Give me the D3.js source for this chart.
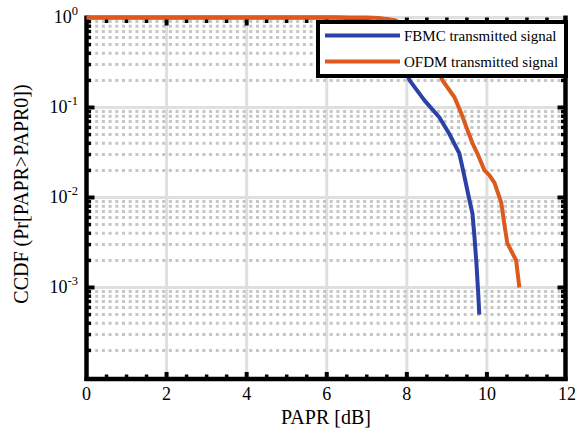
<!DOCTYPE html>
<html>
<head>
<meta charset="utf-8">
<script src="https://cdn.jsdelivr.net/npm/d3@7"></script>
<style>
  html, body { margin: 0; padding: 0; background: #fff; }
  svg { display: block; }
</style>
</head>
<body>
<svg id="chart" width="580" height="438" font-family="'Liberation Serif', 'Times New Roman', Times, serif"></svg>
<script>
// ---- data ----
const xTicks = [0, 2, 4, 6, 8, 10, 12];
const yDecades = [1, 0.1, 0.01, 0.001];
const yExponents = ["0", "-1", "-2", "-3"];
const seriesNames = ["FBMC transmitted signal", "OFDM transmitted signal"];
const fbmcX = [0, 6.2, 6.8, 7.2, 7.5, 7.8, 8.07, 8.44, 8.81, 9.06, 9.31, 9.44, 9.56, 9.64, 9.69, 9.74, 9.78, 9.81];
const fbmcY = [1, 1, 0.98, 0.88, 0.65, 0.38, 0.2, 0.12, 0.078, 0.051, 0.031, 0.017, 0.0095, 0.0066, 0.0036, 0.0018, 0.0009, 0.0005];
const ofdmX = [0, 7.0, 7.3, 7.7, 8.0, 8.3, 8.6, 8.89, 9.19, 9.36, 9.49, 9.64, 9.76, 9.94, 10.06, 10.19, 10.36, 10.43, 10.51, 10.73, 10.81];
const ofdmY = [1, 1, 0.985, 0.93, 0.8, 0.6, 0.38, 0.2, 0.13, 0.086, 0.06, 0.04, 0.031, 0.02, 0.0177, 0.0145, 0.0087, 0.0052, 0.0031, 0.002, 0.001];
const colors = ["#2c41a6", "#dd5a1e"];

const FONT = "'Liberation Serif', 'Times New Roman', Times, serif";
const svg = d3.select("#chart");
const x = d3.scaleLinear().domain([0, 12]).range([86.5, 567]);
const y = d3.scaleLog().domain([1e-4, 1]).range([377.5, 17.5]);
const x0 = x(0), x1 = x(12) - 1.5, yTop = y(1), yBot = y(1e-4) + 1.5;

// major grid
const g = svg.append("g");
xTicks.filter(d => d > 0 && d < 12).forEach(d => {
  g.append("line").attr("x1", x(d)).attr("x2", x(d)).attr("y1", yTop).attr("y2", yBot)
    .attr("stroke", "#dfdfdf").attr("stroke-width", 3);
});
[1, 0.1, 0.01, 0.001].forEach(d => {
  g.append("line").attr("x1", x0).attr("x2", x1).attr("y1", y(d)).attr("y2", y(d))
    .attr("stroke", "#dfdfdf").attr("stroke-width", 3);
});
// minor grid (dotted)
const minorVals = [];
[-4, -3, -2, -1].forEach(e => { for (let k = 2; k <= 9; k++) minorVals.push(k * Math.pow(10, e)); });
minorVals.forEach(v => {
  g.append("line").attr("x1", x0 + 2).attr("x2", x1).attr("y1", y(v)).attr("y2", y(v))
    .attr("stroke", "#c6c6c6").attr("stroke-width", 3).attr("stroke-dasharray", "3,3.7");
});

// frame
const f = svg.append("g").attr("stroke", "#000");
f.append("line").attr("x1", x0).attr("x2", x0).attr("y1", yTop - 2).attr("y2", yBot + 2).attr("stroke-width", 4.5);
f.append("line").attr("x1", x0 - 2).attr("x2", x1 + 2).attr("y1", yBot).attr("y2", yBot).attr("stroke-width", 4.5);
f.append("line").attr("x1", x1).attr("x2", x1).attr("y1", yTop - 2).attr("y2", yBot + 2).attr("stroke-width", 4.5);

// ticks
const xMinor = d3.range(0.5, 12, 0.5);
xMinor.forEach(d => {
  const major = Math.abs(d % 2) < 1e-9;
  const len = major ? 7 : 4.5;
  f.append("line").attr("x1", x(d)).attr("x2", x(d)).attr("y1", yBot).attr("y2", yBot - len).attr("stroke-width", major ? 4 : 3.5);
  f.append("line").attr("x1", x(d)).attr("x2", x(d)).attr("y1", yTop).attr("y2", yTop + len + 1).attr("stroke-width", major ? 4 : 3.5);
});
const yAll = minorVals.map(v => [v, false]).concat([[0.1, true], [0.01, true], [0.001, true]]);
yAll.forEach(([v, major]) => {
  const len = major ? 8 : 4.5;
  f.append("line").attr("x1", x0).attr("x2", x0 + len).attr("y1", y(v)).attr("y2", y(v)).attr("stroke-width", major ? 4 : 3.5);
  f.append("line").attr("x1", x1).attr("x2", x1 - len).attr("y1", y(v)).attr("y2", y(v)).attr("stroke-width", major ? 4 : 3.5);
});

// tick labels
xTicks.forEach(d => {
  svg.append("text").attr("x", x(d)).attr("y", 400).attr("text-anchor", "middle")
    .attr("font-family", FONT).attr("font-size", 18).text(d);
});
yDecades.forEach((d, i) => {
  const t = svg.append("text").attr("x", 78).attr("y", y(d) + 5.5).attr("text-anchor", "end")
    .attr("font-family", FONT).attr("font-size", 18);
  t.append("tspan").text("10");
  t.append("tspan").attr("dy", -8).attr("font-size", 12.5).text(yExponents[i]);
});

// axis titles
svg.append("text").attr("x", 326).attr("y", 424).attr("text-anchor", "middle")
  .attr("font-family", FONT).attr("font-size", 20).text("PAPR [dB]");
svg.append("text").attr("transform", "translate(28,194) rotate(-90)").attr("text-anchor", "middle")
  .attr("font-family", FONT).attr("font-size", 20).text("CCDF (Pr[PAPR>PAPR0])");

// curves
const line = d3.line().x(d => x(d[0])).y(d => y(d[1]));
const series = [d3.zip(fbmcX, fbmcY), d3.zip(ofdmX, ofdmY)];
series.forEach((s, i) => {
  svg.append("path").attr("d", line(s)).attr("fill", "none").attr("stroke", colors[i])
    .attr("stroke-width", 4).attr("stroke-linejoin", "round");
});

// legend
const lg = svg.append("g");
lg.append("rect").attr("x", 318).attr("y", 22).attr("width", 566 - 318).attr("height", 76 - 22)
  .attr("fill", "#fff").attr("stroke", "#000").attr("stroke-width", 4);
seriesNames.forEach((n, i) => {
  const yy = 35.5 + i * 26;
  lg.append("line").attr("x1", 325).attr("x2", 400).attr("y1", yy).attr("y2", yy)
    .attr("stroke", colors[i]).attr("stroke-width", 4);
  lg.append("text").attr("x", 404).attr("y", yy + 5).attr("font-family", FONT).attr("font-size", 15).text(n);
});
</script>
</body>
</html>
